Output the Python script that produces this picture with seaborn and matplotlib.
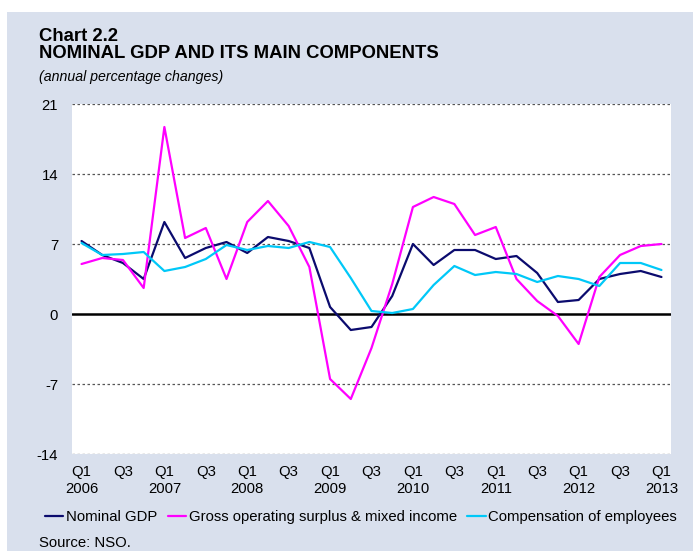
import numpy as np
import pandas as pd
import seaborn as sns
import matplotlib.pyplot as plt
from matplotlib.patches import Rectangle

##----------- Data --------------##
quarters = [f"Q{q} {y}" for y in range(2006, 2014) for q in (1, 2, 3, 4)][:29]
series_names = ["Nominal GDP", "Gross operating surplus & mixed income", "Compensation of employees"]
nominal_gdp = [7.3, 5.9, 5.1, 3.5, 9.2, 5.6, 6.6, 7.2, 6.1, 7.7, 7.3, 6.6, 0.7, -1.6, -1.3, 1.8,
               7.0, 4.9, 6.4, 6.4, 5.5, 5.8, 4.1, 1.2, 1.4, 3.5, 4.0, 4.3, 3.7]
gross_surplus = [5.0, 5.6, 5.4, 2.6, 18.7, 7.6, 8.6, 3.5, 9.2, 11.3, 8.8, 4.7, -6.5, -8.5, -3.4, 3.0,
                 10.7, 11.7, 11.0, 7.9, 8.7, 3.5, 1.3, -0.2, -3.0, 3.7, 5.9, 6.8, 7.0]
compensation = [7.1, 5.9, 6.0, 6.2, 4.3, 4.7, 5.5, 6.9, 6.4, 6.8, 6.6, 7.2, 6.7, 3.6, 0.3, 0.1,
                 0.5, 2.9, 4.8, 3.9, 4.2, 4.0, 3.2, 3.8, 3.5, 2.8, 5.1, 5.1, 4.4]
y_ticks = [-14, -7, 0, 7, 14, 21]
line_colors = ["#0b0b6e", "#ff00ff", "#00c8f8"]

df = pd.DataFrame({
    "idx": np.tile(np.arange(len(quarters)), 3),
    "value": nominal_gdp + gross_surplus + compensation,
    "series": np.repeat(series_names, len(quarters)),
})

tick_pos = list(range(0, len(quarters), 2))
tick_labels = []
for i in tick_pos:
    q, y = quarters[i].split()
    tick_labels.append(f"{q}\n{y}" if q == "Q1" else q)

##----------- Plot --------------##
sns.set_style("white")
plt.rcParams["font.family"] = ["Liberation Sans", "DejaVu Sans"]
plt.rcParams["text.color"] = "black"
plt.rcParams["axes.unicode_minus"] = False

bg = "#d9e0ed"
fig = plt.figure(figsize=(6.93, 5.51), dpi=100, facecolor="white")
fig.patches.append(Rectangle((7 / 693, 0), 1, 1 - 12 / 551, transform=fig.transFigure,
                             facecolor=bg, edgecolor="none", zorder=-5))
ax = fig.add_axes([72 / 693, 97 / 551, 599 / 693, 350 / 551])
ax.set_zorder(2)
ax.set_facecolor("white")

sns.lineplot(data=df, x="idx", y="value", hue="series", hue_order=series_names,
             palette=line_colors, linewidth=1.6, ax=ax, zorder=3)

for v in y_ticks:
    if v != 0:
        ax.axhline(v, color="#555555", lw=0.9, ls=(0, (2, 2)), zorder=1)
ax.axhline(0, color="black", lw=1.8, zorder=2)

ax.set_xlim(-0.46, len(quarters) - 1 + 0.46)
ax.set_ylim(-14, 21)
ax.set_yticks(y_ticks)
ax.set_xticks(tick_pos)
ax.set_xticklabels(tick_labels)
for t in ax.get_xticklabels():
    t.set_linespacing(1.3)
ax.tick_params(axis="both", length=0, labelsize=10.7, colors="black", labelcolor="black")
ax.tick_params(axis="y", pad=10)
ax.tick_params(axis="x", pad=8)
ax.set_xlabel("")
ax.set_ylabel("")
for s in ax.spines.values():
    s.set_visible(False)

handles, labels = ax.get_legend_handles_labels()
ax.get_legend().remove()
fig.legend(handles, labels, loc="center left", bbox_to_anchor=(45 / 693, 34 / 551),
           ncol=3, frameon=False, fontsize=10.7, handlelength=1.22, handletextpad=0.2,
           columnspacing=0.7, borderpad=0, borderaxespad=0, labelcolor="black")

fig.text(39 / 693, 1 - 41 / 551, "Chart 2.2", fontsize=13.3, fontweight="bold", va="baseline")
fig.text(39 / 693, 1 - 58 / 551, "NOMINAL GDP AND ITS MAIN COMPONENTS", fontsize=13.3,
         fontweight="bold", va="baseline")
fig.text(39 / 693, 1 - 81 / 551, "(annual percentage changes)", fontsize=10.2,
         style="italic", va="baseline")
fig.text(39 / 693, 4 / 551, "Source: NSO.", fontsize=10.7, va="baseline")

fig.savefig("out.png", dpi=100, facecolor=fig.get_facecolor())
